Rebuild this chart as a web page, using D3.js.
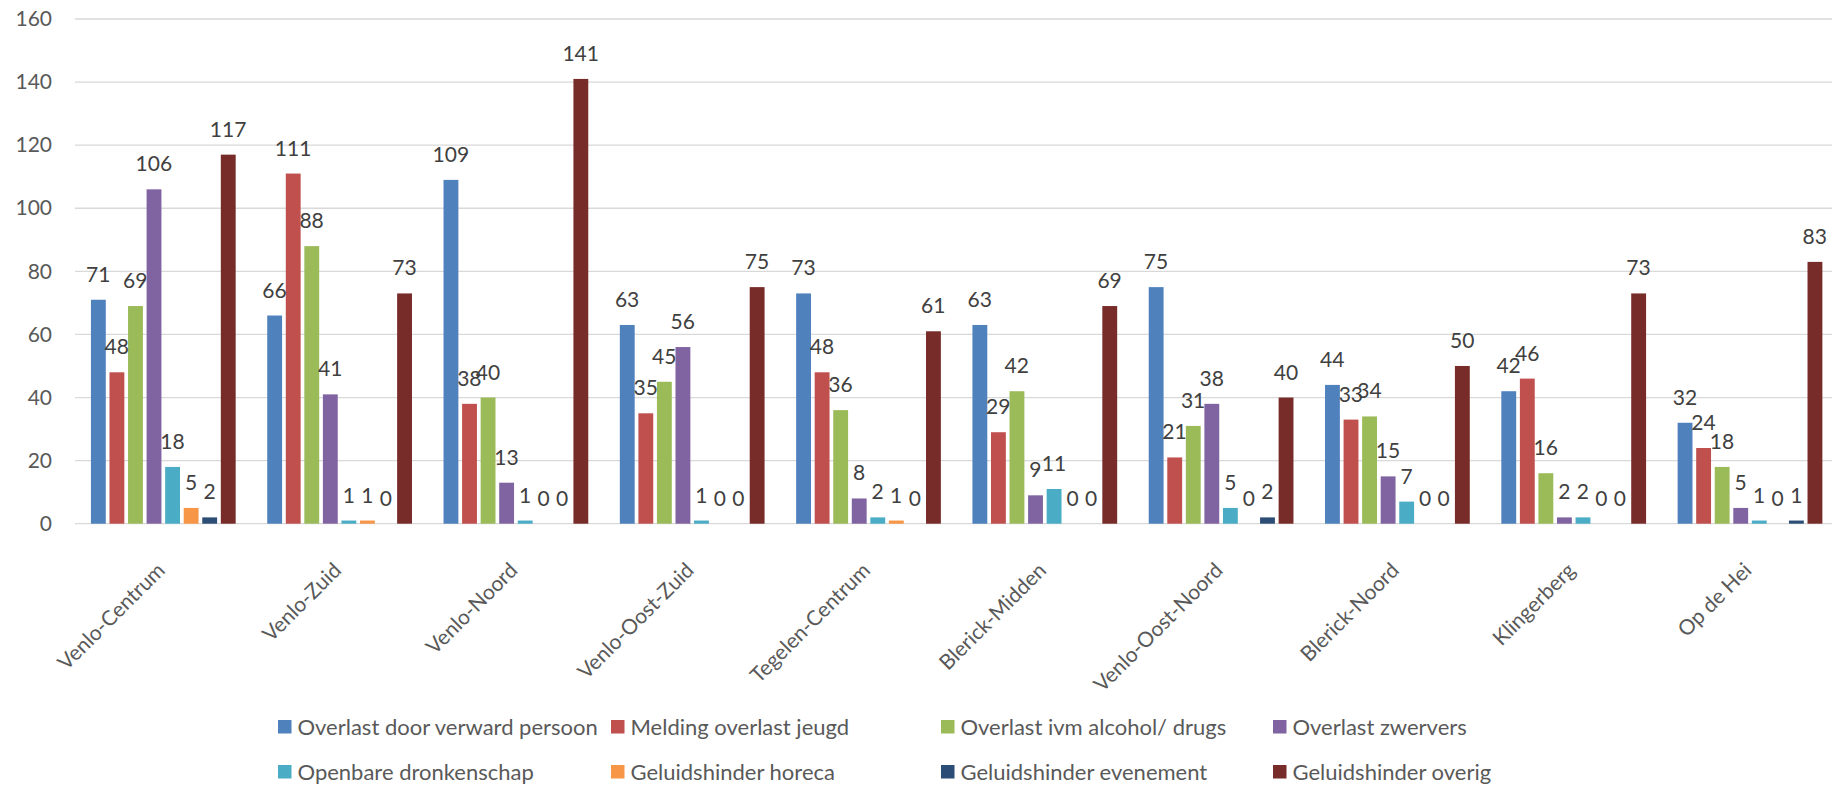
<!DOCTYPE html>
<html>
<head>
<meta charset="utf-8">
<script src="https://cdn.jsdelivr.net/npm/d3@7"></script>
<style>
  html, body { margin: 0; padding: 0; background: #ffffff; }
  svg { display: block; font-family: Lato, "Open Sans", sans-serif; }
</style>
</head>
<body>
<svg id="chart" width="1832" height="785"></svg>
<script>
const categories = ["Venlo-Centrum", "Venlo-Zuid", "Venlo-Noord", "Venlo-Oost-Zuid", "Tegelen-Centrum",
  "Blerick-Midden", "Venlo-Oost-Noord", "Blerick-Noord", "Klingerberg", "Op de Hei"];

const seriesNames = ["Overlast door verward persoon", "Melding overlast jeugd", "Overlast ivm alcohol/ drugs",
  "Overlast zwervers", "Openbare dronkenschap", "Geluidshinder horeca", "Geluidshinder evenement", "Geluidshinder overig"];

const verwardPersoon   = [71, 66, 109, 63, 73, 63, 75, 44, 42, 32];
const overlastJeugd    = [48, 111, 38, 35, 48, 29, 21, 33, 46, 24];
const alcoholDrugs     = [69, 88, 40, 45, 36, 42, 31, 34, 16, 18];
const zwervers         = [106, 41, 13, 56, 8, 9, 38, 15, 2, 5];
const dronkenschap     = [18, 1, 1, 1, 2, 11, 5, 7, 2, 1];
const horeca           = [5, 1, 0, 0, 1, 0, 0, 0, 0, 0];
const evenement        = [2, 0, 0, 0, 0, 0, 2, 0, 0, 1];
const overig           = [117, 73, 141, 75, 61, 69, 40, 50, 73, 83];

const yTicks = [0, 20, 40, 60, 80, 100, 120, 140, 160];

const colors = ["#4F81BD", "#C0504D", "#9BBB59", "#8064A2", "#4BACC6", "#F79646", "#2C4D75", "#772C2A"];

const seriesValues = [verwardPersoon, overlastJeugd, alcoholDrugs, zwervers, dronkenschap, horeca, evenement, overig];
const series = seriesNames.map((name, i) => ({ name, values: seriesValues[i], color: colors[i] }));

const svg = d3.select("#chart");
const plotLeft = 75, plotRight = 1838, plotTop = 19, plotBottom = 523.7;

const y = d3.scaleLinear().domain([0, 160]).range([plotBottom, plotTop]);
const x0 = d3.scaleBand().domain(categories).range([plotLeft, plotRight])
  .paddingInner(0.158).paddingOuter(0.079);
const x1 = d3.scaleBand().domain(seriesNames).range([0, x0.bandwidth()]).padding(0);

// gridlines
svg.append("g").selectAll("line").data(yTicks).join("line")
  .attr("x1", plotLeft).attr("x2", plotRight)
  .attr("y1", d => y(d)).attr("y2", d => y(d))
  .attr("stroke", "#d9d9d9").attr("stroke-width", 1.3);

// y axis labels
const yAxis = d3.axisLeft(y).tickValues(yTicks).tickSize(0).tickPadding(0);
const yg = svg.append("g").attr("transform", "translate(52,0)").call(yAxis);
yg.select(".domain").remove();
yg.selectAll("text").attr("font-size", 21).attr("fill", "#595959")
  .attr("font-family", "Lato, 'Open Sans', sans-serif");

// bars
const groups = svg.append("g").selectAll("g").data(categories).join("g")
  .attr("transform", d => `translate(${x0(d)},0)`);

const inset = 2;
groups.each(function(cat, ci) {
  const g = d3.select(this);
  const data = series.map(s => ({ name: s.name, value: s.values[ci], color: s.color }));
  g.selectAll("rect").data(data).join("rect")
    .attr("x", d => x1(d.name) + inset)
    .attr("width", x1.bandwidth() - 2 * inset + 0.3)
    .attr("y", d => y(d.value))
    .attr("height", d => y(0) - y(d.value))
    .attr("fill", d => d.color);
  g.selectAll("text").data(data).join("text")
    .attr("x", d => x1(d.name) + x1.bandwidth() / 2)
    .attr("y", d => y(d.value) - 18)
    .attr("text-anchor", "middle")
    .attr("font-size", 21)
    .attr("fill", "#404040")
    .text(d => d.value);
});

// x axis labels
const xAxis = d3.axisBottom(x0).tickSize(0).tickPadding(0);
const xg = svg.append("g").attr("transform", `translate(0,${plotBottom})`).call(xAxis);
xg.select(".domain").remove();
xg.selectAll(".tick text")
  .attr("font-size", 21).attr("fill", "#595959")
  .attr("font-family", "Lato, 'Open Sans', sans-serif")
  .attr("text-anchor", "end")
  .attr("dy", 0)
  .attr("transform", "translate(3,48) rotate(-45)");

// legend
const legendX = [278, 611, 941, 1273];
const legendY = [727, 772];
const legend = svg.append("g").selectAll("g").data(series).join("g")
  .attr("transform", (d, i) => `translate(${legendX[i % 4]},${legendY[Math.floor(i / 4)]})`);
legend.append("rect").attr("x", 0).attr("y", -7).attr("width", 13.5).attr("height", 13.5)
  .attr("fill", d => d.color);
legend.append("text").attr("x", 19.5).attr("y", 0).attr("dy", "0.36em")
  .attr("font-size", 22).attr("fill", "#595959")
  .text(d => d.name);
</script>
</body>
</html>
